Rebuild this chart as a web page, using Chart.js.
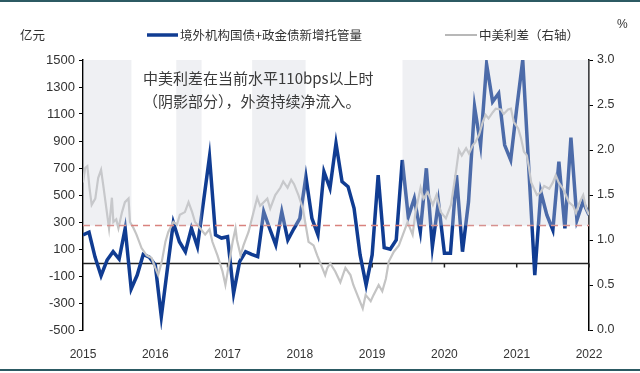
<!DOCTYPE html>
<html>
<head>
<meta charset="utf-8">
<script src="https://cdn.jsdelivr.net/npm/chart.js@4/dist/chart.umd.min.js"></script>
<style>
  html, body { margin: 0; padding: 0; background: #fff; overflow: hidden; }
  canvas { display: block; }
</style>
</head>
<body>
<canvas id="flowChart" width="640" height="373"></canvas>
<script>
// 境外机构国债+政金债新增托管量 (亿元), monthly 2015-01 .. 2022-01
const flowStart = 2015;
const flowValues = [
  204, 224, 40, -98, 18, 80, 26, 253, -196, -93, 60, 40,
  -18, -401, -50, 295, 154, 80, 253, 117, 450, 784, 204, 181,
  191, -228, 6, 80, 60, 43, 376, 250, 130, 376, 167, 250,
  327, 636, 327, 204, 673, 550, 883, 599, 562, 401, 56, -167,
  56, 648, 110, 98, 167, 759, 339, 475, 228, 698, 117, 450,
  68, 68, 648, 80, 450, 1154, 870, 1468, 1191, 1253, 870, 759,
  1142, 1500, 700, -93, 524, 352, 241, 747, 253, 925, 315, 450,
  352
];

// 中美利差 (%), right axis
const spreadDates = [
  2015.00, 2015.03, 2015.06, 2015.09, 2015.12, 2015.17, 2015.21, 2015.25, 2015.28, 2015.33,
  2015.36, 2015.40, 2015.42, 2015.46, 2015.49, 2015.54, 2015.58, 2015.63, 2015.65, 2015.70,
  2015.74, 2015.81, 2015.88, 2015.95, 2016.00, 2016.04, 2016.09, 2016.14, 2016.18, 2016.25,
  2016.30, 2016.34, 2016.41, 2016.46, 2016.51, 2016.55, 2016.62, 2016.69, 2016.75, 2016.79,
  2016.86, 2016.93, 2016.97, 2017.01, 2017.07, 2017.11, 2017.13, 2017.18, 2017.22, 2017.29,
  2017.36, 2017.41, 2017.45, 2017.50, 2017.55, 2017.59, 2017.66, 2017.73, 2017.77, 2017.83,
  2017.88, 2017.92, 2017.98, 2018.04, 2018.08, 2018.12, 2018.19, 2018.24, 2018.31, 2018.35,
  2018.38, 2018.42, 2018.49, 2018.56, 2018.63, 2018.70, 2018.74, 2018.81, 2018.87, 2018.91,
  2018.98, 2019.02, 2019.09, 2019.14, 2019.19, 2019.23, 2019.30, 2019.37, 2019.44, 2019.49,
  2019.56, 2019.60, 2019.67, 2019.71, 2019.77, 2019.84, 2019.89, 2019.95, 2020.02, 2020.09,
  2020.16, 2020.20, 2020.24, 2020.30, 2020.34, 2020.39, 2020.43, 2020.48, 2020.53, 2020.57,
  2020.61, 2020.67, 2020.71, 2020.78, 2020.82, 2020.88, 2020.92, 2020.96, 2021.02, 2021.06,
  2021.10, 2021.14, 2021.17, 2021.20, 2021.24, 2021.28, 2021.33, 2021.38, 2021.45, 2021.50,
  2021.54, 2021.58, 2021.64, 2021.68, 2021.72, 2021.78, 2021.82, 2021.86, 2021.92, 2021.96,
  2022.00
];
const spreadValues = [
  1.64, 1.80, 1.82, 1.58, 1.39, 1.46, 1.69, 1.78, 1.61, 1.31,
  1.13, 1.47, 1.20, 1.23, 1.13, 1.31, 1.42, 1.46, 1.20, 1.13,
  1.06, 0.91, 0.83, 0.80, 0.69, 0.61, 0.76, 0.98, 1.09, 1.20,
  1.17, 1.28, 1.31, 1.42, 1.31, 1.20, 1.13, 1.06, 1.12, 0.98,
  0.83, 0.65, 0.50, 0.69, 0.98, 1.13, 1.00, 0.83, 0.94, 1.09,
  1.31, 1.47, 1.38, 1.42, 1.46, 1.35, 1.50, 1.58, 1.65, 1.58,
  1.67, 1.62, 1.50, 1.35, 1.17, 0.98, 0.94, 0.83, 0.69, 0.61,
  0.69, 0.74, 0.65, 0.53, 0.69, 0.61, 0.50, 0.36, 0.24, 0.39,
  0.32, 0.39, 0.50, 0.43, 0.57, 0.76, 0.87, 0.94, 1.09, 1.20,
  1.06, 1.31, 1.58, 1.46, 1.53, 1.39, 1.50, 1.31, 1.24, 1.39,
  1.76, 2.00, 1.94, 2.02, 1.96, 2.05, 2.09, 2.17, 2.31, 2.39,
  2.35, 2.42, 2.46, 2.45, 2.40, 2.45, 2.46, 2.31, 2.24, 2.13,
  1.98, 1.94, 1.80, 1.64, 1.57, 1.50, 1.53, 1.60, 1.57, 1.64,
  1.72, 1.64, 1.57, 1.50, 1.42, 1.38, 1.30, 1.40, 1.50, 1.35,
  1.28
];

// dashed reference level (as drawn against the right axis) and the periods above it
const threshold = 1.16;
const shadeStarts = [2015.00, 2016.29, 2017.34, 2019.42];
const shadeEnds = [2015.67, 2016.64, 2018.08, 2022.00];

const yearTicks = [2015, 2016, 2017, 2018, 2019, 2020, 2021, 2022];
const flowLabel = '境外机构国债+政金债新增托管量';
const spreadLabel = '中美利差（右轴）';
const noteLines = ['中美利差在当前水平110bps以上时', '（阴影部分），外资持续净流入。'];

const NAVY = '#103c92';
const GREY = '#c4c4c4';
const CJK = '"Noto Sans CJK SC", "Noto Sans", sans-serif';
const NUM = '"Liberation Sans", Arial, sans-serif';

const flowData = flowValues.map((v, i) => ({ x: flowStart + i / 12, y: v }));
const spreadData = spreadValues.map((v, i) => ({ x: spreadDates[i], y: v }));
const thresholdData = [
  { x: yearTicks[0], y: threshold },
  { x: yearTicks[yearTicks.length - 1], y: threshold }
];

const decor = {
  id: 'decor',
  beforeDraw(chart) {
    const c = chart.ctx;
    c.save();
    c.fillStyle = '#ffffff';
    c.fillRect(0, 0, chart.width, chart.height);
    c.fillStyle = '#2c5a63';
    c.fillRect(0, 0, chart.width, 2);
    c.fillRect(0, chart.height - 4, chart.width, 2);
    c.restore();
  },
  beforeDatasetsDraw(chart) {
    const c = chart.ctx;
    const { x, y } = chart.scales;
    const area = chart.chartArea;
    const y0 = Math.round(y.getPixelForValue(0)) + 0.5;
    c.save();
    c.strokeStyle = '#222';
    c.lineWidth = 1.5;
    c.beginPath();
    c.moveTo(area.left, y0);
    c.lineTo(area.right, y0);
    yearTicks.slice(1).forEach(yr => {
      const px = x.getPixelForValue(yr);
      c.moveTo(px, y0);
      c.lineTo(px, y0 + 4);
    });
    c.stroke();
    c.restore();
  },
  afterDatasetsDraw(chart) {
    const c = chart.ctx;
    const { x, y1 } = chart.scales;
    const area = chart.chartArea;
    const bottom = y1.getPixelForValue(threshold);
    c.save();
    c.fillStyle = 'rgba(204, 208, 218, 0.32)';
    shadeStarts.forEach((s, i) => {
      const l = x.getPixelForValue(s);
      const r = x.getPixelForValue(shadeEnds[i]);
      c.fillRect(l, area.top, r - l, bottom - area.top);
    });
    c.fillStyle = '#3a3a3a';
    c.font = '15px ' + CJK;
    c.textBaseline = 'middle';
    c.textAlign = 'left';
    c.fillText(noteLines[0], 143, 78);
    c.fillText(noteLines[1], 143, 101);
    c.restore();
  },
  afterDraw(chart) {
    const c = chart.ctx;
    c.save();
    c.textBaseline = 'middle';
    c.textAlign = 'left';
    c.font = '12.5px ' + CJK;
    c.fillStyle = '#333';
    c.fillText('亿元', 20, 35);
    c.fillText(flowLabel, 180, 35);
    c.fillText(spreadLabel, 479, 35);
    c.font = '12px ' + NUM;
    c.fillText('%', 617, 25);
    c.lineCap = 'butt';
    c.strokeStyle = NAVY;
    c.lineWidth = 3.5;
    c.beginPath();
    c.moveTo(147, 35);
    c.lineTo(178, 35);
    c.stroke();
    c.strokeStyle = '#888';
    c.lineWidth = 1.2;
    c.beginPath();
    c.moveTo(445, 35);
    c.lineTo(477, 35);
    c.stroke();
    c.restore();
  }
};

new Chart(document.getElementById('flowChart'), {
  type: 'line',
  data: {
    datasets: [
      {
        label: '110bps',
        data: thresholdData,
        yAxisID: 'y1',
        borderColor: '#d9827e',
        borderWidth: 1.5,
        borderDash: [7, 5],
        pointRadius: 0
      },
      {
        label: spreadLabel,
        data: spreadData,
        yAxisID: 'y1',
        borderColor: GREY,
        borderWidth: 2.2,
        pointRadius: 0,
        tension: 0
      },
      {
        label: flowLabel,
        data: flowData,
        yAxisID: 'y',
        borderColor: NAVY,
        borderWidth: 3.5,
        pointRadius: 0,
        tension: 0
      }
    ]
  },
  options: {
    responsive: false,
    animation: false,
    devicePixelRatio: 1,
    layout: { padding: { top: 60, left: 0, right: 0, bottom: 0 } },
    plugins: {
      legend: { display: false },
      tooltip: { enabled: false }
    },
    scales: {
      x: {
        type: 'linear',
        min: 2015,
        max: 2022,
        afterBuildTicks: s => { s.ticks = yearTicks.map(v => ({ value: v })); },
        afterFit: s => { s.height = 43; },
        grid: { display: false },
        border: { display: false },
        ticks: {
          padding: 9,
          color: '#333',
          font: { family: NUM, size: 12 },
          callback: v => String(v),
          maxRotation: 0
        }
      },
      y: {
        position: 'left',
        min: -500,
        max: 1500,
        afterFit: s => { s.width = 83; },
        ticks: {
          stepSize: 200,
          padding: 4,
          color: '#333',
          font: { family: NUM, size: 13 },
          callback: v => String(v)
        },
        grid: { drawOnChartArea: false, drawTicks: true, tickLength: 4, color: '#000' },
        border: { color: '#000', width: 1.5 }
      },
      y1: {
        position: 'right',
        min: 0,
        max: 3,
        afterFit: s => { s.width = 51; },
        ticks: {
          stepSize: 0.5,
          padding: 4,
          color: '#333',
          font: { family: NUM, size: 12.5 },
          callback: v => v.toFixed(1)
        },
        grid: { drawOnChartArea: false, drawTicks: true, tickLength: 4, color: '#000' },
        border: { color: '#000', width: 1.5 }
      }
    }
  },
  plugins: [decor]
});
</script>
</body>
</html>
